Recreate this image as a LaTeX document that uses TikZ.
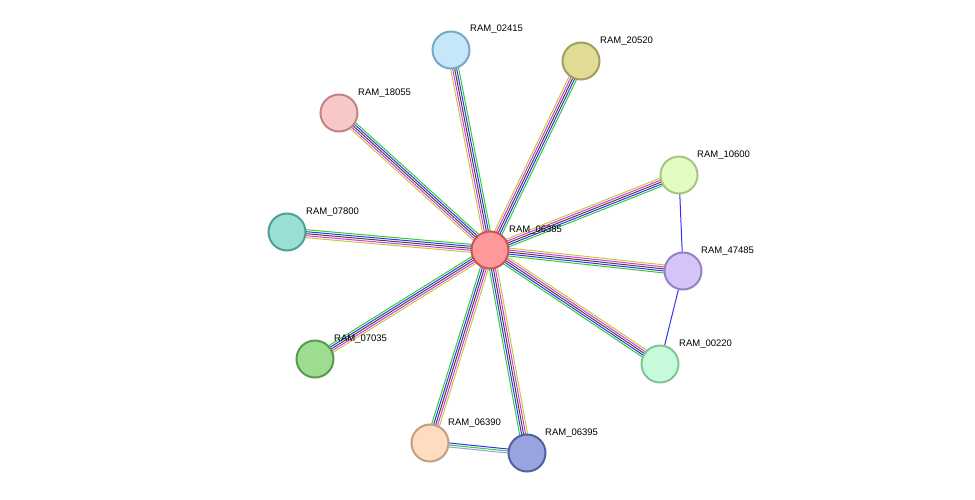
\documentclass[tikz,border=0pt]{standalone}
\usepackage{fontspec}
\setmainfont{Liberation Sans}
\usetikzlibrary{calc}

\definecolor{evgreen}{HTML}{33CC33}
\definecolor{evblue}{HTML}{3333EE}
\definecolor{evblack}{HTML}{444444}
\definecolor{evpink}{HTML}{DD33DD}
\definecolor{evyellow}{HTML}{BBCC44}
\definecolor{evlav}{HTML}{9999EE}

% protein fill / border colours
\definecolor{f06385}{HTML}{FF9999}\definecolor{b06385}{HTML}{CC5555}
\definecolor{f02415}{HTML}{C6E6FA}\definecolor{b02415}{HTML}{78A8C8}
\definecolor{f20520}{HTML}{E0DC96}\definecolor{b20520}{HTML}{A09F5C}
\definecolor{f18055}{HTML}{F8C8C8}\definecolor{b18055}{HTML}{C08484}
\definecolor{f10600}{HTML}{E2FCC2}\definecolor{b10600}{HTML}{A8C484}
\definecolor{f07800}{HTML}{9ADFD6}\definecolor{b07800}{HTML}{509E96}
\definecolor{f47485}{HTML}{D4C4F8}\definecolor{b47485}{HTML}{9880C8}
\definecolor{f07035}{HTML}{9EDC90}\definecolor{b07035}{HTML}{5A9A50}
\definecolor{f00220}{HTML}{C6FADA}\definecolor{b00220}{HTML}{80C49A}
\definecolor{f06390}{HTML}{FDDCC0}\definecolor{b06390}{HTML}{C0A080}
\definecolor{f06395}{HTML}{98A4DE}\definecolor{b06395}{HTML}{5060A0}

\tikzset{
  prot/.style={circle, minimum size=37pt, inner sep=0pt,
    line width=2pt, fill=f#1, draw=b#1},
  plabel/.style={anchor=south west, inner sep=1pt, font=\fontsize{9.5pt}{10pt}\selectfont},
  evline/.style={line width=1pt}
}

% multi-line edge: from, to
\newcommand{\evedge}[2]{
  \foreach \o/\c in {-4pt/evgreen, -2pt/evblue, 0pt/evblack, 2pt/evpink, 4pt/evyellow}{
    \draw[evline, \c] ($(#1)!\o!90:(#2)$) -- ($(#2)!\o!-90:(#1)$);
  }
}

\begin{document}
\begin{tikzpicture}[x=1pt, y=-1pt]
    \useasboundingbox (0,0) rectangle (975,499);

    \coordinate (c-06385) at (490,250);
    \coordinate (c-02415) at (451,50);
    \coordinate (c-20520) at (581,61);
    \coordinate (c-18055) at (339,113);
    \coordinate (c-10600) at (679,175);
    \coordinate (c-07800) at (287,232);
    \coordinate (c-47485) at (683,271);
    \coordinate (c-07035) at (315,359);
    \coordinate (c-00220) at (660,364);
    \coordinate (c-06390) at (430,443);
    \coordinate (c-06395) at (527,453);

    % edges
    \foreach \p in {02415, 20520, 18055, 10600, 07800, 47485, 07035, 00220, 06390, 06395}{
      \evedge{c-06385}{c-\p}
    }
    \draw[evline, evblue] (c-10600) -- (c-47485);
    \draw[evline, evblue] (c-47485) -- (c-00220);
    \foreach \o/\c in {-2pt/evlav, 0pt/evgreen, 2pt/evblue}{
      \draw[evline, \c] ($(c-06390)!\o!90:(c-06395)$) -- ($(c-06395)!\o!-90:(c-06390)$);
    }

    % proteins
    \foreach \p in {06385, 02415, 20520, 18055, 10600, 07800, 47485, 07035, 00220, 06390, 06395}{
      \node[prot=\p] (p-\p) at (c-\p) {};
    }

    % labels
    \node[plabel] at (508,236) {RAM\_06385};
    \node[plabel] at (469,35) {RAM\_02415};
    \node[plabel] at (599,47) {RAM\_20520};
    \node[plabel] at (357,99) {RAM\_18055};
    \node[plabel] at (696,161) {RAM\_10600};
    \node[plabel] at (305,218) {RAM\_07800};
    \node[plabel] at (700,257) {RAM\_47485};
    \node[plabel] at (333,345) {RAM\_07035};
    \node[plabel] at (678,350) {RAM\_00220};
    \node[plabel] at (447,429) {RAM\_06390};
    \node[plabel] at (544,439) {RAM\_06395};
\end{tikzpicture}
\end{document}
